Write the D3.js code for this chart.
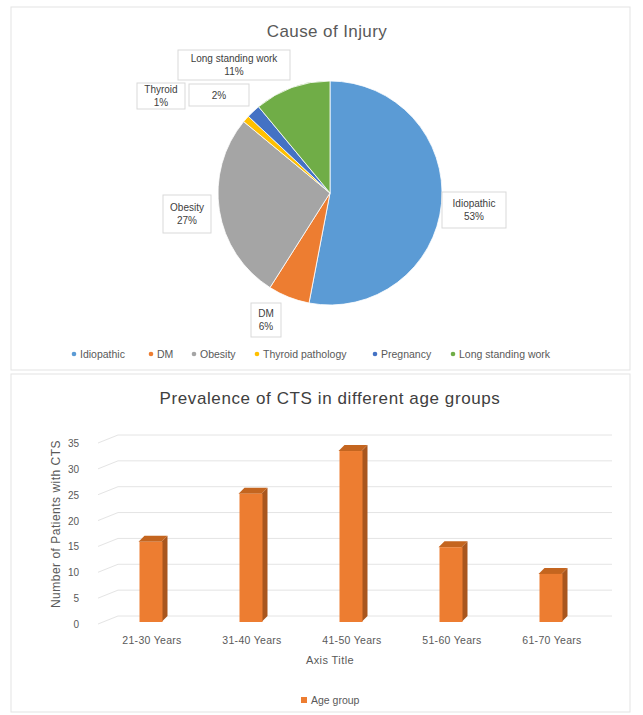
<!DOCTYPE html>
<html><head><meta charset="utf-8">
<script src="https://cdn.jsdelivr.net/npm/d3@7"></script>
<style>body{margin:0;background:#fff;}svg{display:block;font-family:"Liberation Sans",Arial,sans-serif;}</style>
</head><body>
<svg id="c" width="643" height="715"></svg>
<script>
const causes = ["Idiopathic","DM","Obesity","Thyroid pathology","Pregnancy","Long standing work"];
const causeValues = [53,6,27,1,2,11];
const causeColors = ["#5B9BD5","#ED7D31","#A5A5A5","#FFC000","#4472C4","#70AD47"];
const ageGroups = ["21-30 Years","31-40 Years","41-50 Years","51-60 Years","61-70 Years"];
const ageValues = [15,24,32,14,9];
const yTicks = [0,5,10,15,20,25,30,35];

const svg = d3.select("#c");
// panels
svg.append("rect").attr("x",11).attr("y",7).attr("width",619).attr("height",363).attr("fill","#fff").attr("stroke","#e3e3e3");
svg.append("rect").attr("x",11).attr("y",374).attr("width",619).attr("height",338).attr("fill","#fff").attr("stroke","#e3e3e3");

// ---- Pie ----
svg.append("text").attr("x",327).attr("y",37).attr("text-anchor","middle").attr("font-size",17).attr("letter-spacing",0.4).attr("fill","#595959").text("Cause of Injury");
const cx=330, cy=193, R=112;
const pie = d3.pie().sort(null).value(d=>d)(causeValues);
const arc = d3.arc().innerRadius(0).outerRadius(R);
const g = svg.append("g").attr("transform",`translate(${cx},${cy})`);
g.selectAll("path").data(pie).join("path").attr("d",arc).attr("fill",(d,i)=>causeColors[i]).attr("stroke","#fff").attr("stroke-width",0.8);

// data labels (boxes)
const labels = [
 {i:0, x:474, y:210, lines:["Idiopathic",causeValues[0]+"%"], w:64, h:36},
 {i:1, x:266, y:320, lines:["DM",causeValues[1]+"%"], w:30, h:34},
 {i:2, x:187, y:214, lines:["Obesity",causeValues[2]+"%"], w:48, h:38},
 {i:3, x:161, y:96, lines:["Thyroid",causeValues[3]+"%"], w:48, h:26},
 {i:4, x:219, y:95, lines:["",causeValues[4]+"%"], w:60, h:22},
 {i:5, x:234, y:65, lines:["Long standing work",causeValues[5]+"%"], w:112, h:30}
];
labels.forEach(l=>{
  svg.append("rect").attr("x",l.x-l.w/2).attr("y",l.y-l.h/2).attr("width",l.w).attr("height",l.h).attr("fill","#fff").attr("stroke","#d9d9d9");
  const t = l.lines[0]===""? [l.lines[1]] : l.lines;
  t.forEach((s,k)=>{
    svg.append("text").attr("x",l.x).attr("y",l.y + (t.length===1?4:(k===0?-3:10))).attr("text-anchor","middle").attr("font-size",l.i===5?10:10).attr("fill","#404040").text(s);
  });
});

// pie legend
const legX=[74,151,194,257,375,453];
causes.forEach((c,i)=>{
  svg.append("circle").attr("cx",legX[i]).attr("cy",354).attr("r",2.3).attr("fill",causeColors[i]);
  svg.append("text").attr("x",legX[i]+6).attr("y",358).attr("font-size",10.5).attr("fill","#595959").text(c);
});

// ---- Bar chart ----
svg.append("text").attr("x",330).attr("y",404).attr("text-anchor","middle").attr("font-size",17).attr("letter-spacing",0.6).attr("fill","#404040").text("Prevalence of CTS in different age groups");
const y = d3.scaleLinear().domain([0,35]).range([624,443]);
const yBar = d3.scaleLinear().domain([0,35]).range([622,435]);
const x = d3.scaleBand().domain(ageGroups).range([100,600]).paddingInner(0.77).paddingOuter(0.385);
const dx=6, dy=6;
// gridlines
yTicks.forEach(t=>{
  const yy=y(t);
  svg.append("path").attr("d",`M98,${yy} L118,${yy-dy-2} L612,${yy-dy-2}`).attr("fill","none").attr("stroke","#e4e4e4").attr("stroke-width",1);
  svg.append("text").attr("x",79).attr("y",yy+4).attr("text-anchor","end").attr("font-size",10).attr("fill","#595959").text(t);
});
svg.append("text").attr("transform","translate(60,524) rotate(-90)").attr("text-anchor","middle").attr("font-size",12).attr("letter-spacing",0.5).attr("fill","#595959").text("Number of Patients with CTS");
// bars
ageGroups.forEach((a,i)=>{
  const x0=x(a), w=x.bandwidth(), y0=yBar(ageValues[i]), yb=yBar(0);
  svg.append("path").attr("d",`M${x0+w},${y0} L${x0+w+dx},${y0-dy} L${x0+w+dx},${yb-dy} L${x0+w},${yb} Z`).attr("fill","#A9561E");
  svg.append("path").attr("d",`M${x0},${y0} L${x0+dx},${y0-dy} L${x0+w+dx},${y0-dy} L${x0+w},${y0} Z`).attr("fill","#C4651F");
  svg.append("rect").attr("x",x0+1).attr("y",y0).attr("width",w).attr("height",yb-y0).attr("fill","#ED7D31");
  svg.append("text").attr("x",x0+w/2+2).attr("y",644).attr("text-anchor","middle").attr("font-size",10.5).attr("letter-spacing",0.3).attr("fill","#595959").text(a);
});
svg.append("text").attr("x",330).attr("y",664).attr("text-anchor","middle").attr("font-size",11).attr("letter-spacing",0.4).attr("fill","#595959").text("Axis Title");
svg.append("rect").attr("x",301).attr("y",697).attr("width",6).attr("height",6).attr("fill","#ED7D31");
svg.append("text").attr("x",311).attr("y",704).attr("font-size",10.5).attr("fill","#595959").text("Age group");
</script>
</body></html>
